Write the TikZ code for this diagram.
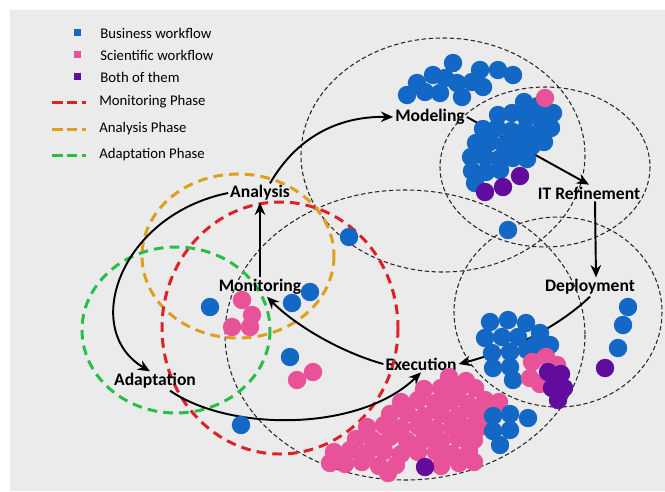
\documentclass[tikz,border=0pt]{standalone}
\usepackage{fontspec}
\setmainfont{Carlito}
\usepackage{tikz}
\usetikzlibrary{arrows.meta,calc}
\definecolor{bizblue}{RGB}{18,104,196}
\definecolor{scipink}{RGB}{232,82,152}
\definecolor{bothpurple}{RGB}{98,12,158}
\definecolor{monred}{RGB}{222,32,40}
\definecolor{anaorange}{RGB}{222,160,28}
\definecolor{adagreen}{RGB}{40,190,70}
\definecolor{bggray}{RGB}{235,235,235}
\tikzstyle{edge}=[->, >={Stealth[length=7pt,width=6pt]}, line width=1.1pt]
\tikzstyle{phase}=[font=\fontsize{10}{12}\selectfont\bfseries, inner sep=1pt]
\tikzstyle{legtext}=[anchor=west, font=\fontsize{8.4}{10}\selectfont, inner sep=0pt]
\tikzstyle{blackC}=[black!85, line width=0.6pt, dash pattern=on 2.5pt off 1.5pt]
\tikzstyle{colC}=[line width=1.7pt, dash pattern=on 5.5pt off 3.5pt]
\tikzstyle{legdash}=[line width=1.7pt, dash pattern=on 6pt off 2.5pt]

\begin{document}
\begin{tikzpicture}[x=0.02cm, y=-0.02cm]
        \useasboundingbox (0,0) rectangle (665,491);
        \fill[white] (0,0) rectangle (665,491);
        \fill[bggray] (10,10) rectangle (665,491);
        % legend
        \fill[bizblue] (74,29) rectangle (81,36);
        \fill[scipink] (74,51) rectangle (81,58);
        \fill[bothpurple] (74,73) rectangle (81,80);
        \node[legtext](lg1) at (100,33){Business workflow};
        \node[legtext](lg2) at (100,55){Scientific workflow};
        \node[legtext](lg3) at (100,77){Both of them};
        \draw[legdash, monred] (52,102) -- (86,102);
        \draw[legdash, anaorange] (52,129) -- (86,129);
        \draw[legdash, adagreen] (52,155) -- (86,155);
        \node[legtext](lg4) at (99,102){Monitoring Phase};
        \node[legtext](lg5) at (99,129){Analysis Phase};
        \node[legtext](lg6) at (99,155){Adaptation Phase};
        % black dashed regions
        \draw[blackC] (443,155) ellipse [x radius=142, y radius=117];
        \draw[blackC] (545,167) ellipse [x radius=105, y radius=80];
        \draw[blackC] (558,312) ellipse [x radius=104, y radius=95];
        \draw[blackC] (405,335) ellipse [x radius=180, y radius=145];
        % phase loops
        \draw[colC, anaorange] (238,256) ellipse [x radius=96, y radius=82];
        \draw[colC, monred] (280,328) ellipse [x radius=118, y radius=126];
        \draw[colC, adagreen] (176,330) ellipse [x radius=94, y radius=83];
        % phases
        \node[phase](mod) at (430,117){Modeling};
        \node[phase](itr) at (589,193){IT Refinement};
        \node[phase](dep) at (590,287){Deployment};
        \node[phase](exe) at (421,364){Execution};
        \node[phase](ada) at (155,381){Adaptation};
        \node[phase](ana) at (260,193){Analysis};
        \node[phase](mon) at (260,287){Monitoring};
        \draw[edge] ($(ana.north)+(10,0)$) .. controls (295,140) and (335,116) .. (mod.west);
        \draw[edge] (mod.east) -- (itr.north);
        \draw[edge] ([xshift=0.12cm]itr.south) -- ([xshift=0.12cm]dep.north);
        \draw[edge] (dep.south) .. controls (555,330) and (505,352) .. (exe.east);
        \draw[edge] (exe.west) .. controls (340,352) and (295,325) .. ($(mon.south)+(7,0)$);
        \draw[edge] (mon.north) -- (ana.south);
        \draw[edge] (ana.west) .. controls (120,215) and (80,330) .. ($(ada.north)+(-5,0)$);
        \draw[edge] ($(ada.south)+(15,0)$) .. controls (230,432) and (360,432) .. (exe.south);
        % workflows
        \foreach \x/\y in {407/95,417/83,433/75,425/92,440/93,445/78,453/63,457/83,462/97,472/82,480/70,483/87,498/70,513/75}
            \fill[bizblue] (\x,\y) circle[radius=9.2];
        \foreach \x/\y in {524/102,538/106,498/115,512/113,526/117,540/119,553/113,
                           483/129,497/128,511/131,525/130,539/133,551/128,
                           476/143,490/142,504/145,518/144,532/146,544/142,
                           471/157,485/157,499/159,513/158,527/159,
                           472/171,486/172,500/170,475/183}
            \fill[bizblue] (\x,\y) circle[radius=9.2];
        \fill[scipink] (545,98) circle[radius=9.2];
        \foreach \x/\y in {485/192,503/187,520/176}
            \fill[bothpurple] (\x,\y) circle[radius=9.2];
        \foreach \x/\y in {508/230,349/237,210/307,292/303,310/292,290/357,241/425,628/307,623/325,618/348}
            \fill[bizblue] (\x,\y) circle[radius=9.2];
        \foreach \x/\y in {242/300,252/315,232/327,250/327,297/380,313/372}
            \fill[scipink] (\x,\y) circle[radius=9.2];
        \fill[bothpurple] (605,368) circle[radius=9.2];
        % deployment cluster
        \foreach \x/\y in {490/322,508/320,526/323,540/333,485/338,502/337,518/337,535/345,550/345,
                           492/353,510/352,527/350,493/368,510/367,513/380}
            \fill[bizblue] (\x,\y) circle[radius=9.2];
        \foreach \x/\y in {532/362,546/357,557/365,530/378,540/384}
            \fill[scipink] (\x,\y) circle[radius=9.2];
        \foreach \x/\y in {548/372,561/374,552/388,564/388,558/400}
            \fill[bothpurple] (\x,\y) circle[radius=9.2];
        % execution cluster
        \foreach \x/\y in {449/377,466/381,424/389,441/388,458/391,475/388,
                           401/402,418/400,435/403,451/401,468/404,485/400,499/402,
                           390/414,407/413,424/416,441/414,458/416,475/413,488/417,
                           367/427,384/425,401/428,418/426,435/429,452/427,469/428,480/427,
                           356/439,373/440,390/437,407/441,424/439,441/441,458/438,474/440,
                           334/452,350/450,367/453,384/451,401/454,418/452,436/452,452/454,469/451,
                           330/463,345/464,362/462,379/466,396/465,441/466,459/463,474/462,388/473}
            \fill[scipink] (\x,\y) circle[radius=9.2];
        \fill[bothpurple] (425,467) circle[radius=9.2];
        \foreach \x/\y in {493/416,510/414,528/418,493/431,510/430,500/445}
            \fill[bizblue] (\x,\y) circle[radius=9.2];
\end{tikzpicture}
\end{document}
